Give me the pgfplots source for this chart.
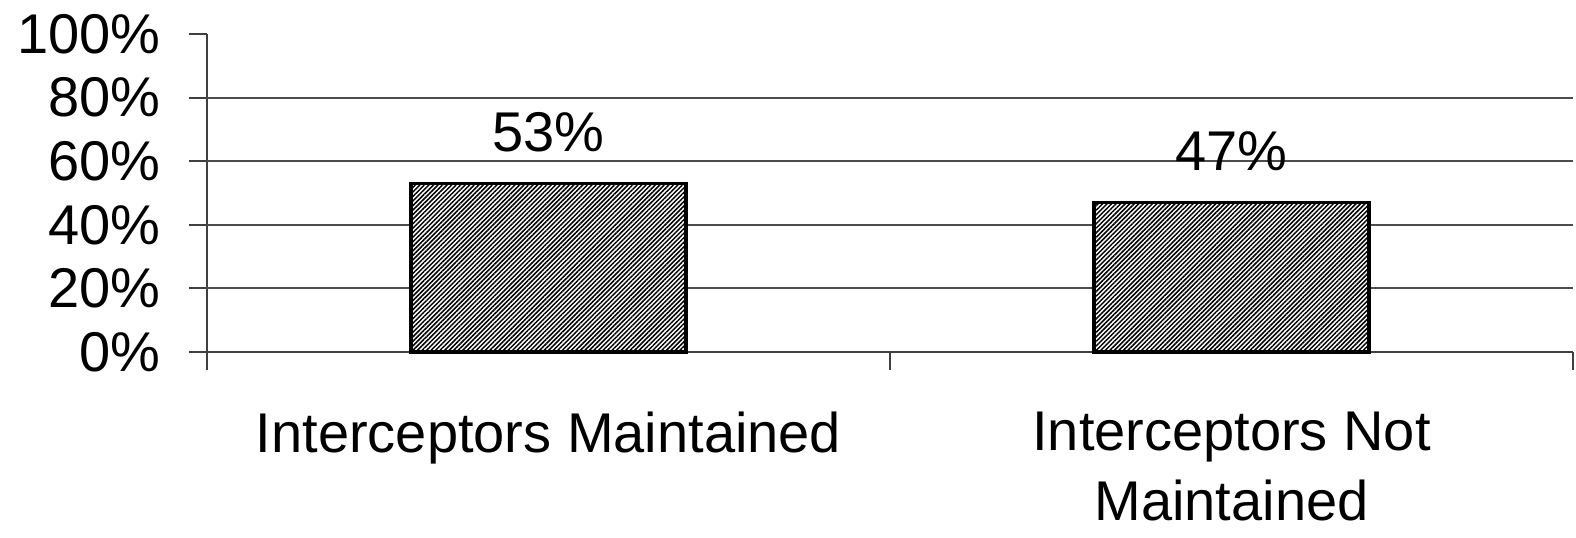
\documentclass[border=0pt]{standalone}
\usepackage{pgfplots}
\pgfplotsset{compat=1.18}
\usepackage{fontspec}
\setmainfont{Liberation Sans}
\usetikzlibrary{patterns.meta}
\newcommand{\bigf}{\fontsize{28}{35}\selectfont}
\begin{document}
\begin{tikzpicture}
\path[use as bounding box] (0pt,0pt) rectangle (788pt,268.5pt);
\begin{axis}[
  at={(103.5pt,92.5pt)}, anchor=south west,
  scale only axis, width=683pt, height=159pt,
  xmin=-0.5, xmax=1.5, ymin=0, ymax=100,
  axis lines=left,
  axis line style={-, draw=black!75, line width=1pt},
  tick style={draw=black!75, line width=1pt},
  tick align=outside, major tick length=9pt,
  ytick={0,20,40,60,80,100},
  yticklabel={\pgfmathprintnumber{\tick}\%},
  yticklabel style={font=\bigf, inner sep=0pt, anchor=east, xshift=-14pt},
  /pgf/number format/assume math mode=true,
  extra y ticks={20,40,60,80},
  extra y tick labels={},
  extra y tick style={grid=major, major tick length=0pt},
  grid style={draw=black!70, line width=1pt},
  xtick={-0.5,0.5,1.5}, xticklabels={},
  extra x ticks={0,1},
  extra x tick labels={Interceptors Maintained, {Interceptors Not\\Maintained}},
  extra x tick style={major tick length=0pt, grid=none,
     tick label style={font=\bigf, align=center, inner sep=0pt, anchor=north, yshift=-30pt}},
  clip=false,
]
\addplot[ybar, bar shift=0pt, bar width=137.5pt, draw=none, fill=white]
  coordinates {(0,53) (1,47)};
\addplot[ybar, bar shift=0pt, bar width=137.5pt, draw=black, line width=1.8pt,
  pattern={Lines[angle=45,distance=1.6pt,line width=0.75pt]}]
  coordinates {(0,53) (1,47)};
\addplot[draw=none, mark=none, nodes near coords={\pgfmathprintnumber{\pgfplotspointmeta}\%},
  nodes near coords style={font=\bigf, inner sep=0pt, anchor=south, yshift=15.5pt},
  point meta=y]
  coordinates {(0,53) (1,47)};
\end{axis}
\end{tikzpicture}
\end{document}
